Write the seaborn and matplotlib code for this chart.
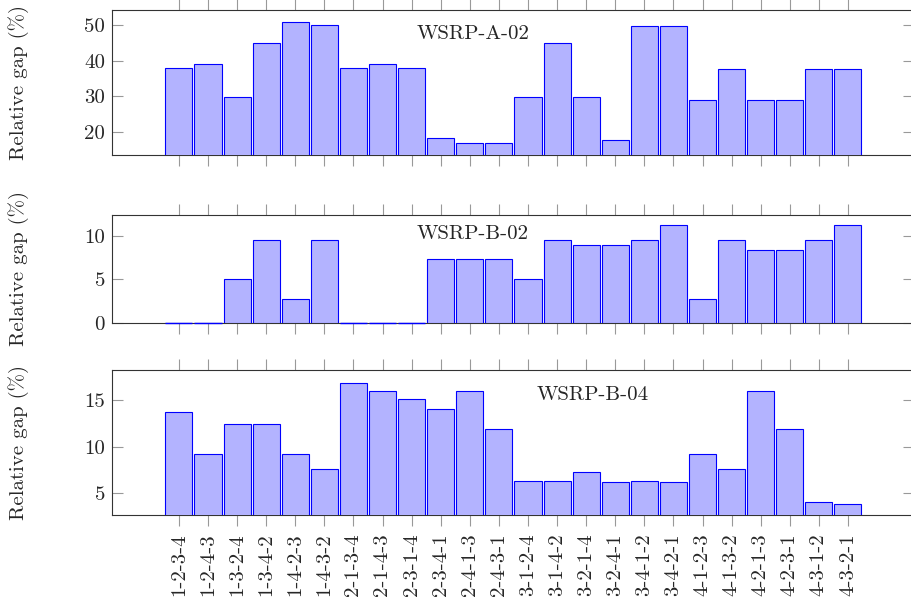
import numpy as np
import pandas as pd
import seaborn as sns
import matplotlib
matplotlib.use("Agg")
import matplotlib.pyplot as plt

# permutation labels on the x axis
perms = ["1-2-3-4", "1-2-4-3", "1-3-2-4", "1-3-4-2", "1-4-2-3", "1-4-3-2",
         "2-1-3-4", "2-1-4-3", "2-3-1-4", "2-3-4-1", "2-4-1-3", "2-4-3-1",
         "3-1-2-4", "3-1-4-2", "3-2-1-4", "3-2-4-1", "3-4-1-2", "3-4-2-1",
         "4-1-2-3", "4-1-3-2", "4-2-1-3", "4-2-3-1", "4-3-1-2", "4-3-2-1"]

# relative gap (%) per instance
gap_a02 = [37.9, 39.0, 29.7, 45.0, 50.9, 50.1, 37.9, 39.0, 37.9, 18.4, 17.0, 17.0,
           29.7, 45.0, 29.7, 17.7, 49.8, 49.8, 29.0, 37.7, 29.0, 29.0, 37.7, 37.7]
gap_b02 = [0, 0, 5.0, 9.5, 2.75, 9.5, 0, 0, 0, 7.3, 7.3, 7.3,
           5.0, 9.5, 8.9, 8.9, 9.5, 11.2, 2.75, 9.5, 8.3, 8.3, 9.5, 11.2]
gap_b04 = [13.7, 9.2, 12.4, 12.4, 9.2, 7.6, 16.9, 16.0, 15.1, 14.1, 16.0, 11.9,
           6.3, 6.3, 7.3, 6.2, 6.3, 6.2, 9.2, 7.6, 16.0, 11.9, 4.0, 3.85]

instances = ["WSRP-A-02", "WSRP-B-02", "WSRP-B-04"]
series = [gap_a02, gap_b02, gap_b04]
ylims = [(13.64, 54.3), (0, 12.34), (2.59, 18.24)]
yticks = [[20, 30, 40, 50], [0, 5, 10], [5, 10, 15]]

sns.set_style("ticks")
plt.rcParams["font.family"] = ["cmr10", "DejaVu Serif"]
plt.rcParams["axes.unicode_minus"] = False
plt.rcParams["font.size"] = 15

fig = plt.figure(figsize=(9.12, 6.04), dpi=100)
W, H = 912, 604

# axes boxes in pixels: top, bottom
boxes = [(9.7, 154.7), (215.3, 322.7), (370.3, 515.3)]
left_px, right_px = 111.7, 914
title_pos = [(0.45, 0.796), (0.45, 0.777), (0.60, 0.795)]

for i, (name, vals) in enumerate(zip(instances, series)):
    top, bot = boxes[i]
    ax = fig.add_axes([left_px / W, 1 - bot / H, (right_px - left_px) / W, (bot - top) / H])
    sns.barplot(x=perms, y=vals, order=perms, ax=ax, color="#b3b3ff", saturation=1,
                edgecolor="#0000ff", linewidth=0.8, width=0.93, errorbar=None)
    for p, v in zip(ax.patches, vals):
        p.set_zorder(3)
        # zero-height bars still show their edge as a blue line
        if v == 0:
            ax.hlines(v, p.get_x(), p.get_x() + p.get_width(), color="#0000ff",
                      linewidth=1.0, zorder=4, clip_on=False)
    ax.set_xlim(-2.31, 25.27)
    ax.set_ylim(*ylims[i])
    ax.set_yticks(yticks[i])
    ax.set_ylabel("")
    ax.set_xlabel("")
    for s in ax.spines.values():
        s.set_color("#333333")
        s.set_linewidth(0.8)
        s.set_visible(True)
    ax.tick_params(axis="x", direction="out", top=True, bottom=True, length=8,
                   width=0.8, color="#999999", pad=4.8)
    ax.tick_params(axis="y", direction="in", left=True, right=True, length=8,
                   width=0.8, color="#999999", pad=4.8, labelsize=15)
    if i < 2:
        ax.set_xticklabels([])
    else:
        ax.set_xticks(range(len(perms)))
        ax.set_xticklabels(perms, rotation=90, fontsize=15)
    tx, ty = title_pos[i]
    ax.text(tx, ty, name, transform=ax.transAxes, ha="center", va="baseline", fontsize=15)
    fig.text(18.5 / W, 1 - (top + bot) / 2 / H, "Relative gap (%)", rotation=90,
             ha="center", va="center", fontsize=15)

fig.savefig("out.png", dpi=100)
